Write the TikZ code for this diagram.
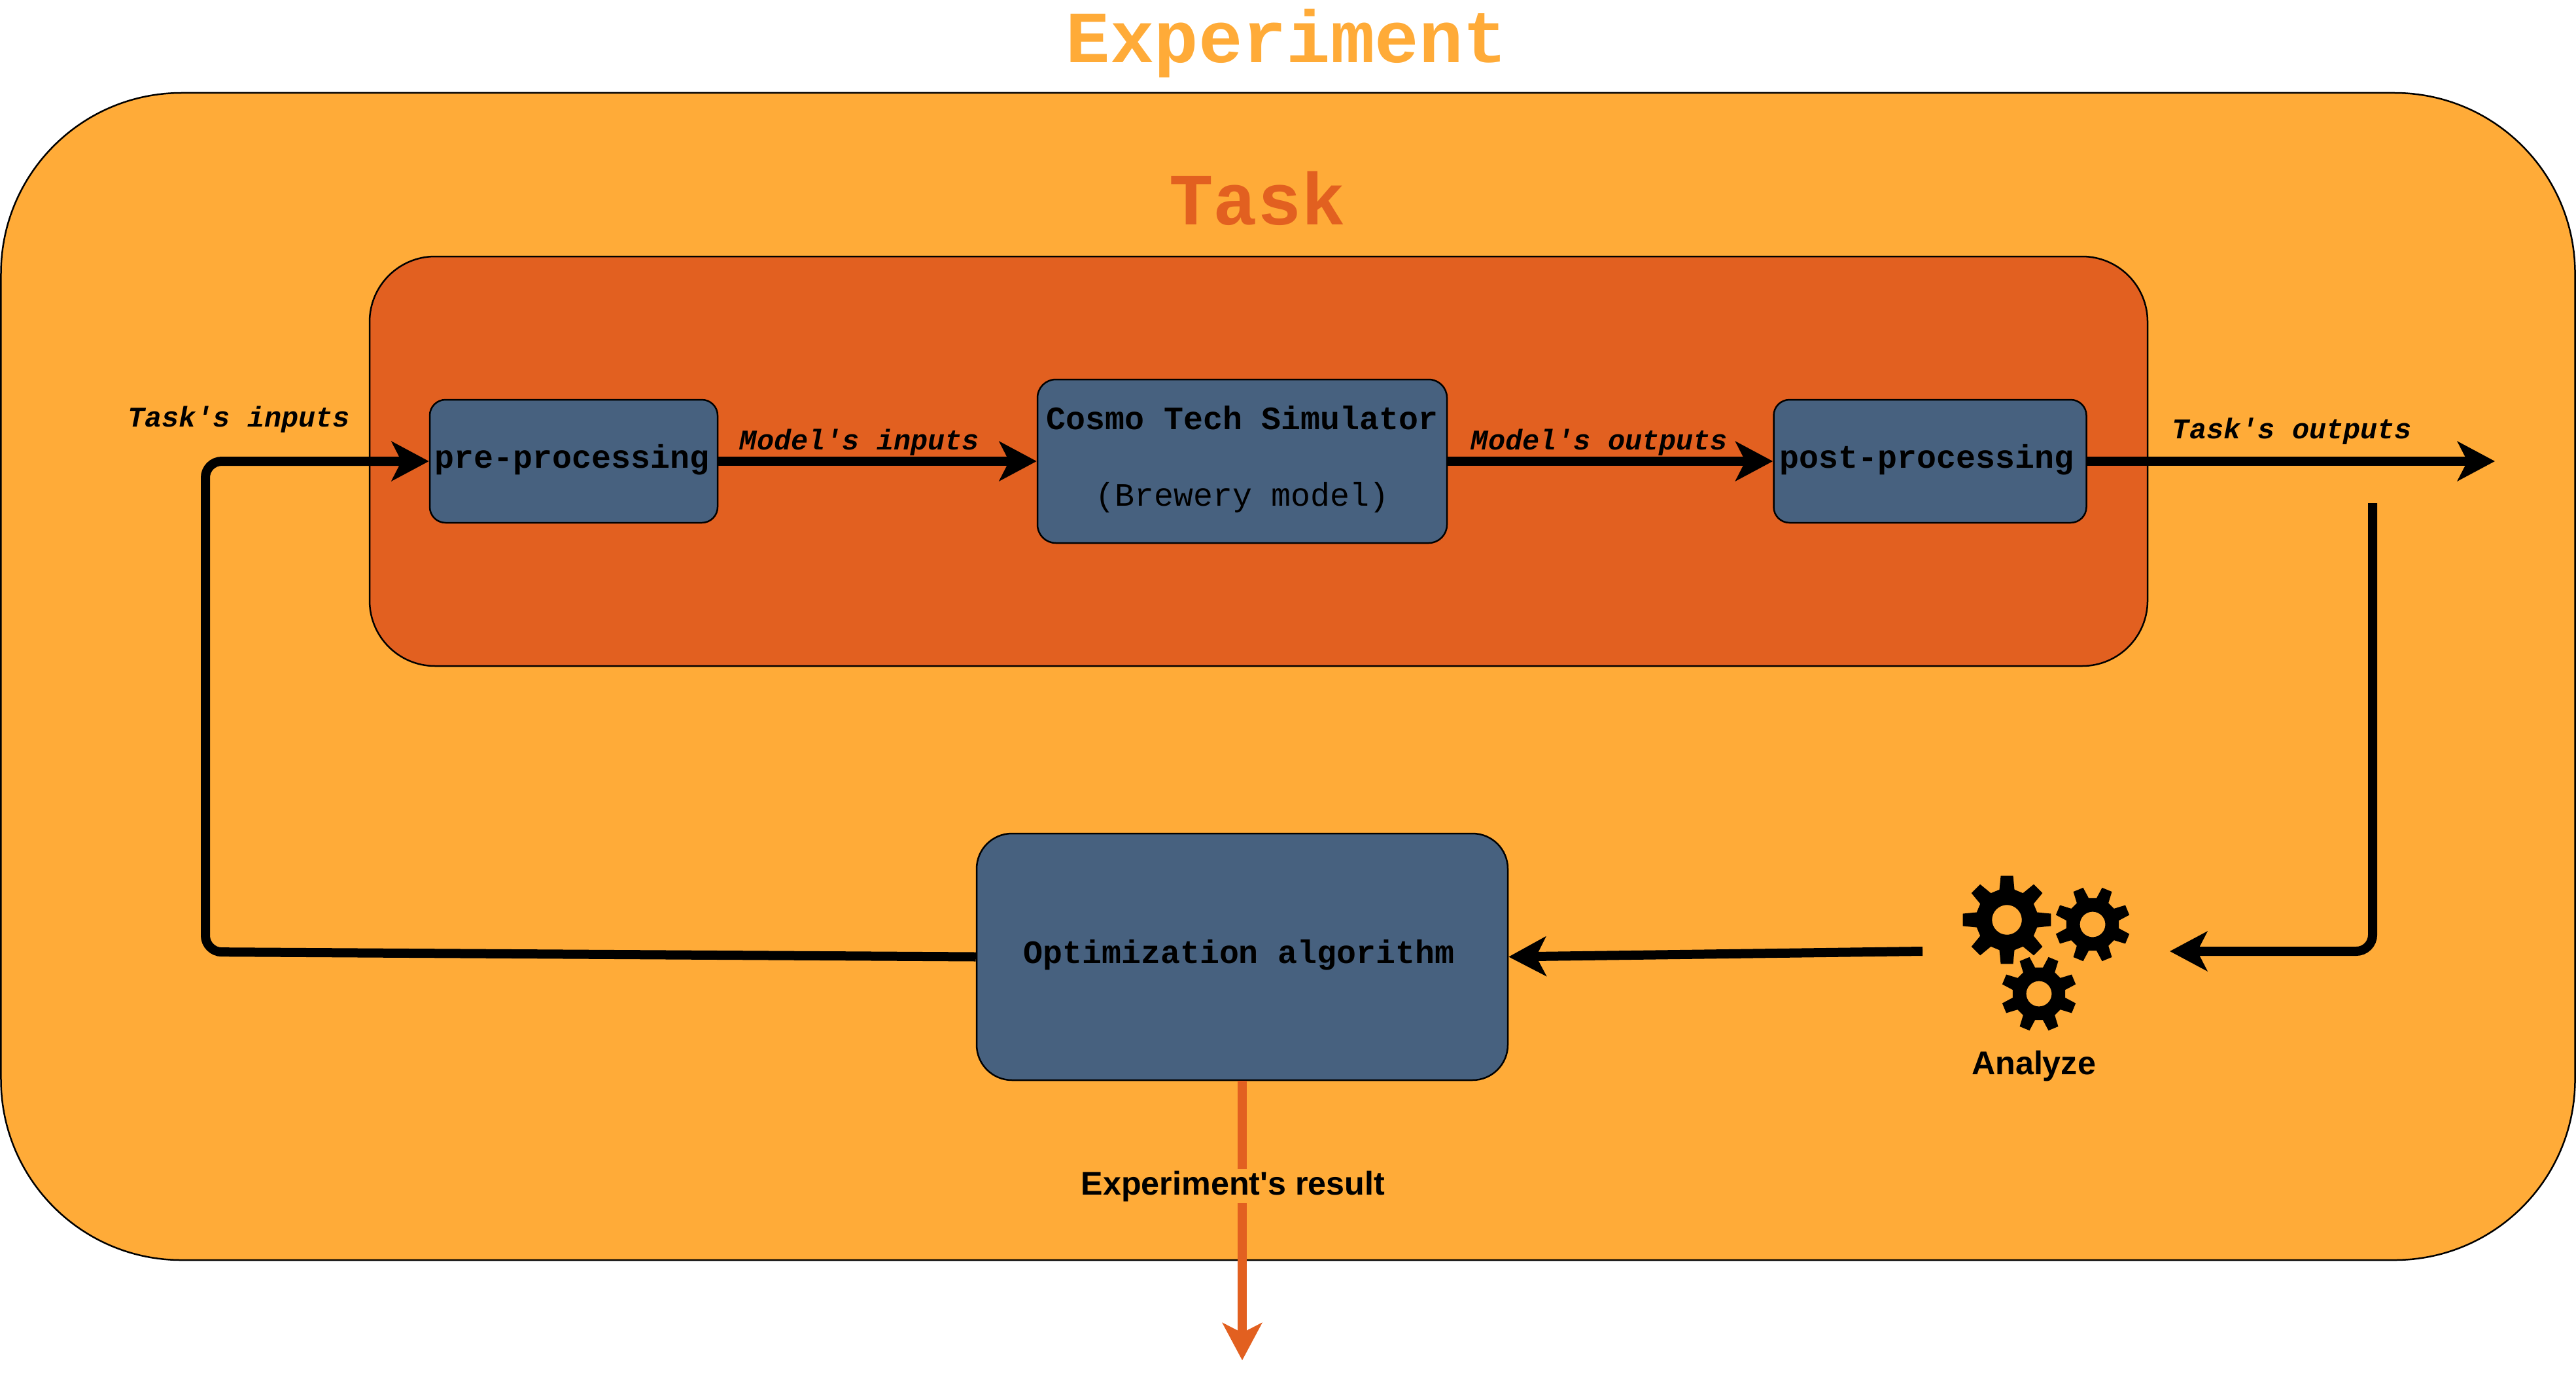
\documentclass[tikz,border=0pt]{standalone}
\usepackage{fontspec}
\setmainfont{Liberation Sans}
\setmonofont{Liberation Mono}
\usetikzlibrary{arrows.meta, positioning}
\definecolor{expcolor}{HTML}{FFAB38}
\definecolor{taskcolor}{HTML}{E26020}
\definecolor{blockcolor}{HTML}{47617F}
\tikzstyle{frame} = [rectangle, draw, line width=0.025cm]
\tikzstyle{block} = [rectangle, draw, line width=0.025cm, fill=blockcolor, text centered, inner sep=0pt, text depth=0.16cm, font=\fontsize{14.2}{17}\selectfont\ttfamily\bfseries]
\tikzstyle{title} = [inner sep=0pt, font=\fontsize{32}{36}\selectfont\ttfamily\bfseries]
\tikzstyle{flow} = [inner sep=0pt, font=\fontsize{12.4}{15}\selectfont\ttfamily\bfseries\itshape]
\tikzstyle{caption} = [inner sep=0pt, font=\fontsize{14.3}{17}\selectfont\bfseries]
\tikzstyle{connector} = [draw, line width=0.14cm, -{Stealth[length=0.57cm, width=0.6cm, inset=0.15cm]}]
\newcommand{\gear}[4]{
    \fill[shift={(#1,#2)}, rotate=#4, even odd rule] (-14:0.7*#3)
        \foreach \a in {0,45,...,315} {
            -- (\a-14:0.7*#3) -- (\a-8:#3) -- (\a+8:#3) -- (\a+14:0.7*#3)
        } -- cycle (0,0) circle (0.335*#3);
}

\begin{document}
\begin{tikzpicture}
    \useasboundingbox (0,0) rectangle (39.38,-21.16);

    \node[frame, fill=expcolor, rounded corners=2.76cm, minimum width=39.35cm, minimum height=17.84cm] (experiment) at (19.69,-10.34) {};
    \node[title, text=expcolor] (experiment_title) at (19.67,-0.66) {Experiment};
    \node[frame, fill=taskcolor, rounded corners=1cm, minimum width=27.18cm, minimum height=6.26cm] (task) at (19.24,-7.05) {};
    \node[title, text=taskcolor] (task_title) at (19.22,-3.03) {Task};

    \node[block, rounded corners=0.24cm, minimum width=4.4cm, minimum height=1.88cm] (pre) at (8.77,-7.05) {pre-processing\hspace*{0.05cm}};
    \node[block, rounded corners=0.28cm, minimum width=6.26cm, minimum height=2.5cm, align=center, right=4.865cm of pre] (simulator) {Cosmo Tech Simulator\\[0.58cm]\mdseries (Brewery model)};
    \node[block, rounded corners=0.24cm, minimum width=4.78cm, minimum height=1.88cm, right=4.97cm of simulator] (post) {post-processing\hspace*{0.1cm}};
    \node[block, rounded corners=0.54cm, minimum width=8.12cm, minimum height=3.77cm, below=4.415cm of simulator] (optim) {Optimization algorithm\hspace*{0.1cm}};

    \coordinate (task_out) at (38.14,-7.05);
    \coordinate (analyze_top) at (36.27,-7.69);
    \coordinate (analyze_corner) at (36.27,-14.54);
    \coordinate (analyze_in) at (33.17,-14.54);
    \coordinate (analyze_out) at (29.39,-14.54);
    \coordinate (loop_low) at (3.14,-14.55);
    \coordinate (loop_high) at (3.14,-7.05);
    \coordinate[below=4.27cm of optim] (result_end);

    \draw[connector] (pre) -- (simulator);
    \draw[connector] (simulator) -- (post);
    \draw[connector] (post) -- (task_out);
    \draw[connector, rounded corners=0.25cm] (analyze_top) -- (analyze_corner) -- (analyze_in);
    \draw[connector] (analyze_out) -- (optim.east);
    \draw[connector, rounded corners=0.25cm] (optim.west) -- (loop_low) -- (loop_high) -- (pre.west);
    \draw[connector, color=taskcolor] (optim.south) -- (result_end);

    \node[flow] (task_inputs) at (3.65,-6.41) {Task's inputs};
    \node[flow] (model_inputs) at (13.14,-6.76) {Model's inputs};
    \node[flow] (model_outputs) at (24.45,-6.76) {Model's outputs};
    \node[flow] (task_outputs) at (35.04,-6.59) {Task's outputs};
    \node[caption] (analyze) at (31.09,-16.29) {Analyze};
    \node[caption, fill=expcolor, inner ysep=0.03cm] (result) at (18.85,-18.13) {Experiment\textquotesingle s result};

    \gear{30.68}{-14.06}{0.68}{0}
    \gear{31.99}{-14.13}{0.58}{22.5}
    \gear{31.17}{-15.19}{0.58}{22.5}
\end{tikzpicture}
\end{document}
